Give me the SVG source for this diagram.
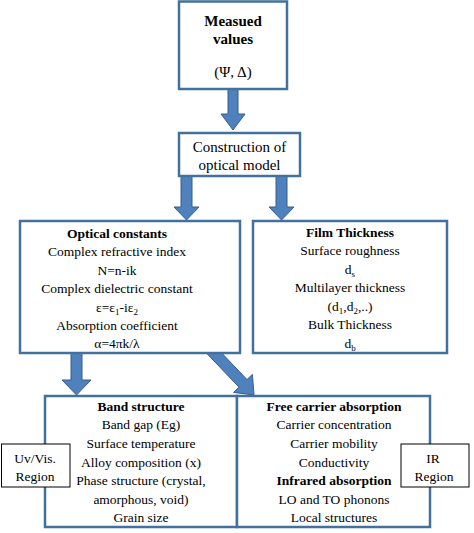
<svg xmlns="http://www.w3.org/2000/svg" width="474" height="533" viewBox="0 0 474 533" font-family="'Liberation Serif', 'Times New Roman', 'DejaVu Serif', serif">
<style>
.box{fill:#fff;stroke:#41719C;stroke-width:2.5}
.rbox{fill:#fff;stroke:#000;stroke-width:1}
.arr{fill:#4F81BD;stroke:#385D8A;stroke-width:1}
text{font-family:'Liberation Serif','Times New Roman','DejaVu Serif',serif;font-size:13.5px;fill:#000;text-anchor:middle}
.b{font-weight:bold}
.l{font-size:15px}
</style>
<rect width="474" height="533" fill="#fff"/>
<g id="connectors">
<polygon class="arr" points="228,85 238,85 238,114 245,114 233,130 221,114 228,114"/>
<polygon class="arr" points="181,172 192,172 192,207 199,207 186.5,220 174,207 181,207"/>
<polygon class="arr" points="276,172 287,172 287,207 294,207 281.5,220 269,207 276,207"/>
<polygon class="arr" points="71,349 82,349 82,380 91,380 76.5,395 62,380 71,380"/>
<polygon class="arr" points="206.3,336.9 247,379.6 252.4,374.4 254,395 233.6,392.4 239,387.2 198.3,344.5"/>
</g>
<g id="measured">
<rect class="box" x="179" y="1.5" width="108" height="87.5"/>
<text class="b l" x="233" y="26">Measued</text>
<text class="b l" x="233" y="44">values</text>
<text class="l" x="233" y="77">(Ψ, Δ)</text>
</g>
<g id="construction">
<rect class="box" x="179" y="133" width="121" height="43"/>
<text class="l" x="239.5" y="152">Construction of</text>
<text class="l" x="239.5" y="170">optical model</text>
</g>
<g id="optical">
<rect class="box" x="20" y="221" width="220" height="132"/>
<text class="b" x="117" y="237.5">Optical constants</text>
<text x="117" y="256">Complex refractive index</text>
<text x="117" y="274.5">N=n-ik</text>
<text x="117" y="293">Complex dielectric constant</text>
<text x="117" y="311.5">ε=ε<tspan font-size="9" dy="3">1</tspan><tspan dy="-3">-iε</tspan><tspan font-size="9" dy="3">2</tspan></text>
<text x="117" y="330">Absorption coefficient</text>
<text x="117" y="348">α=4πk/λ</text>
</g>
<g id="film">
<rect class="box" x="253" y="221" width="194" height="132"/>
<text class="b" x="350" y="236.5">Film Thickness</text>
<text x="350" y="255">Surface roughness</text>
<text x="350" y="273.5">d<tspan font-size="9" dy="3">s</tspan></text>
<text x="350" y="292">Multilayer  thickness</text>
<text x="350" y="310.5">(d<tspan font-size="9" dy="3">1</tspan><tspan dy="-3">,d</tspan><tspan font-size="9" dy="3">2</tspan><tspan dy="-3">,..)</tspan></text>
<text x="350" y="329">Bulk Thickness</text>
<text x="350" y="347.5">d<tspan font-size="9" dy="3">b</tspan></text>
</g>
<g id="band">
<rect class="box" x="45" y="396" width="192" height="131"/>
<text class="b" x="141" y="410.5">Band structure</text>
<text x="141" y="429">Band gap (Eg)</text>
<text x="141" y="447.5">Surface temperature</text>
<text x="141" y="466.5">Alloy  composition  (x)</text>
<text x="141" y="485">Phase structure (crystal,</text>
<text x="141" y="503.5">amorphous, void)</text>
<text x="141" y="522">Grain size</text>
</g>
<g id="free">
<rect class="box" x="237" y="396" width="193" height="131"/>
<text class="b" x="334" y="410.5">Free carrier absorption</text>
<text x="334" y="429">Carrier concentration</text>
<text x="334" y="447.5">Carrier mobility</text>
<text x="334" y="466.5">Conductivity</text>
<text class="b" x="334" y="485">Infrared absorption</text>
<text x="334" y="503.5">LO and TO phonons</text>
<text x="334" y="522">Local structures</text>
</g>
<g id="uvvis">
<rect class="rbox" x="1.5" y="444" width="68.5" height="43"/>
<text x="35" y="462.5">Uv/Vis.</text>
<text x="35" y="480.5">Region</text>
</g>
<g id="ir">
<rect class="rbox" x="401" y="444" width="68" height="43"/>
<text x="433" y="462.5">IR</text>
<text x="434" y="480.5">Region</text>
</g>
</svg>
